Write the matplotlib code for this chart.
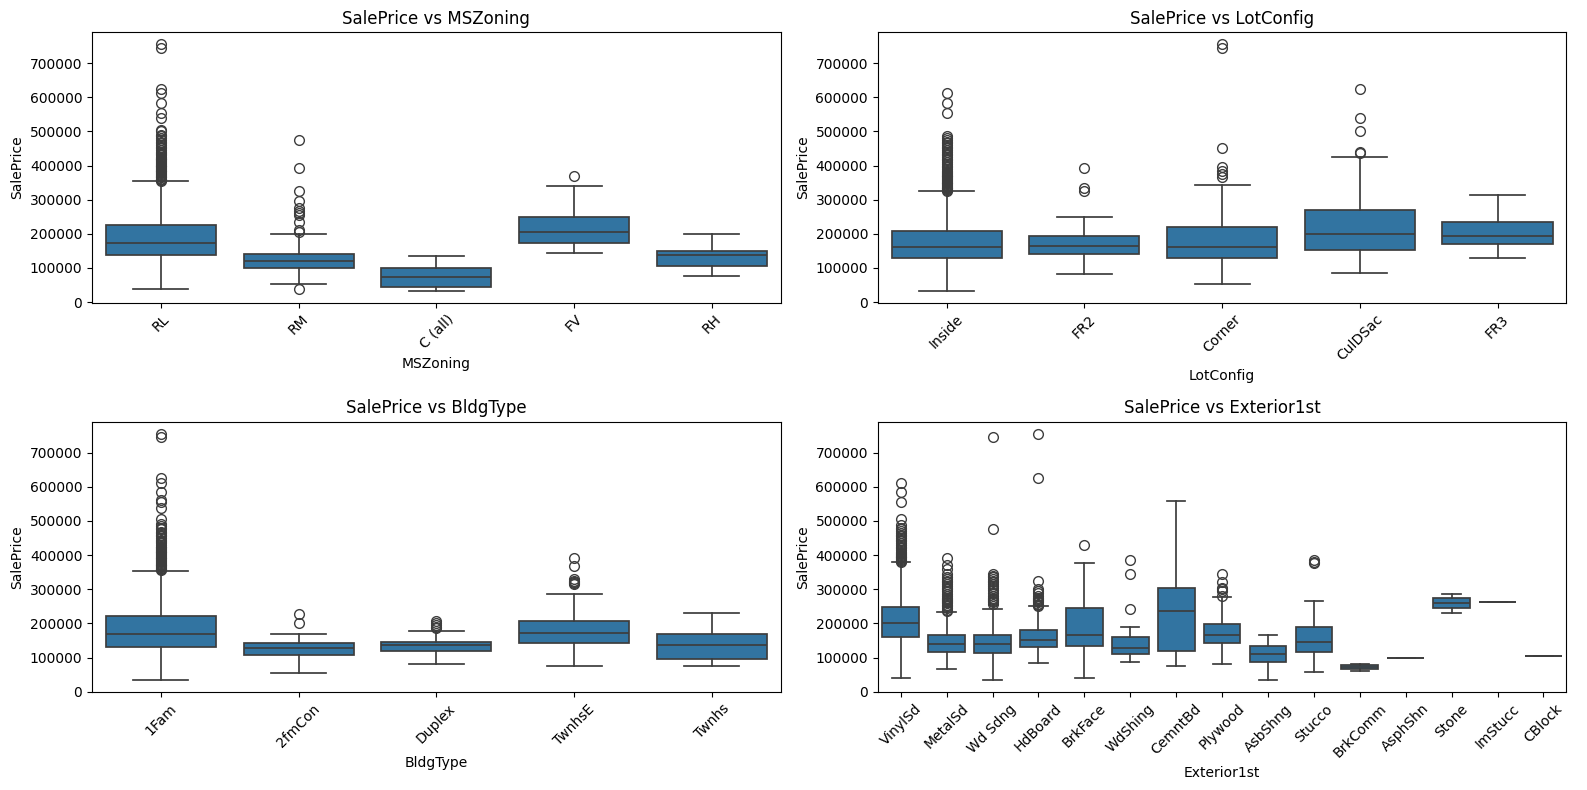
import numpy as np
import matplotlib
matplotlib.use("Agg")
import matplotlib.pyplot as plt

# box statistics, SalePrice in thousands
zoning_cats = ["RL", "RM", "C (all)", "FV", "RH"]
zoning_lo = [39, 54, 34, 143, 76]
zoning_q1 = [137, 100, 44, 173, 105]
zoning_med = [173, 121, 75, 206, 138]
zoning_q3 = [225, 140, 100, 248, 149]
zoning_hi = [354, 199, 135, 339, 199]
zoning_fliers = [
    [356, 358, 360, 362, 365, 367, 370, 372, 375, 378, 380, 383, 385, 388, 390,
     392, 395, 398, 400, 403, 405, 408, 410, 412, 415, 418, 420, 423, 425, 430,
     435, 438, 440, 445, 450, 455, 460, 465, 468, 475, 480, 485, 490, 500,
     505, 538, 555, 582, 611, 625, 745, 755],
    [38, 206, 210, 235, 255, 262, 268, 275, 295, 325, 392, 475],
    [],
    [370],
    [],
]

lot_cats = ["Inside", "FR2", "Corner", "CulDSac", "FR3"]
lot_lo = [34, 82, 53, 84, 129]
lot_q1 = [128, 142, 128, 154, 169]
lot_med = [161, 164, 161, 199, 195]
lot_q3 = [208, 193, 219, 269, 234]
lot_hi = [325, 248, 342, 424, 315]
lot_fliers = [
    [326, 328, 330, 333, 335, 338, 340, 343, 345, 348, 350, 353, 355, 358, 360,
     363, 365, 368, 370, 373, 375, 378, 380, 385, 390, 395, 400, 405, 410, 415,
     420, 425, 430, 435, 440, 445, 450, 455, 460, 465, 470, 475, 480, 485,
     555, 582, 611],
    [325, 335, 394],
    [367, 375, 385, 395, 452, 745, 755],
    [437, 440, 502, 538, 625],
    [],
]

bldg_cats = ["1Fam", "2fmCon", "Duplex", "TwnhsE", "Twnhs"]
bldg_lo = [35, 55, 82, 76, 76]
bldg_q1 = [130, 107, 120, 143, 96]
bldg_med = [169, 129, 136, 173, 137]
bldg_q3 = [222, 143, 146, 208, 169]
bldg_hi = [353, 169, 179, 287, 230]
bldg_fliers = [
    [355, 358, 360, 362, 365, 367, 370, 372, 375, 378, 380, 383, 385, 388, 390,
     392, 395, 398, 400, 403, 405, 408, 410, 412, 415, 418, 420, 423, 425, 430,
     435, 438, 440, 445, 450, 455, 460, 465, 468, 475, 480, 485, 490,
     505, 538, 555, 560, 585, 611, 625, 745, 755],
    [200, 228],
    [187, 190, 195, 200, 206],
    [315, 318, 320, 325, 330, 367, 392],
    [],
]

ext_cats = ["VinylSd", "MetalSd", "Wd Sdng", "HdBoard", "BrkFace", "WdShing",
            "CemntBd", "Plywood", "AsbShng", "Stucco", "BrkComm", "AsphShn",
            "Stone", "ImStucc", "CBlock"]
ext_lo = [39, 65, 35, 85, 41, 88, 76, 82, 35, 57, 60, 100, 230, 262, 105]
ext_q1 = [160, 117, 114, 131, 133, 110, 120, 142, 87, 117, 67, 100, 244, 262, 105]
ext_med = [202, 140, 140, 150, 166, 129, 237, 167, 109, 145, 72, 100, 260, 262, 105]
ext_q3 = [248, 166, 166, 182, 245, 160, 303, 198, 135, 190, 77, 100, 275, 262, 105]
ext_hi = [379, 233, 242, 250, 377, 190, 557, 277, 166, 266, 82, 100, 286, 262, 105]
ext_fliers = [
    [380, 383, 385, 388, 390, 393, 395, 398, 400, 403, 405, 410, 415, 420, 425,
     430, 435, 440, 445, 450, 455, 460, 465, 470, 475, 480, 488, 505, 555, 584, 611],
    [235, 240, 245, 250, 255, 260, 263, 265, 268, 270, 275, 280, 285, 295, 300,
     305, 310, 315, 320, 325, 330, 335, 345, 360, 370, 390],
    [258, 262, 265, 268, 272, 275, 280, 290, 298, 305, 310, 315, 320, 325, 330,
     335, 340, 345, 475, 745],
    [252, 255, 258, 262, 265, 268, 272, 275, 280, 288, 295, 300, 325, 625, 755],
    [430],
    [242, 345, 385],
    [],
    [280, 295, 300, 305, 320, 345],
    [],
    [376, 381, 385],
    [], [], [], [], [],
]

panels = [
    ("MSZoning", zoning_cats, zoning_lo, zoning_q1, zoning_med, zoning_q3, zoning_hi, zoning_fliers),
    ("LotConfig", lot_cats, lot_lo, lot_q1, lot_med, lot_q3, lot_hi, lot_fliers),
    ("BldgType", bldg_cats, bldg_lo, bldg_q1, bldg_med, bldg_q3, bldg_hi, bldg_fliers),
    ("Exterior1st", ext_cats, ext_lo, ext_q1, ext_med, ext_q3, ext_hi, ext_fliers),
]

box_color = "#3274a1"
line_color = "#3d3d3d"

fig, axes = plt.subplots(2, 2, figsize=(15.87, 7.9), dpi=100)
fig.subplots_adjust(left=0.058, right=0.987, top=0.9595, bottom=0.124,
                    wspace=0.141, hspace=0.44)

for ax, (name, cats, lo, q1, med, q3, hi, fl) in zip(axes.flat, panels):
    stats = []
    for i in range(len(cats)):
        stats.append({
            "whislo": lo[i] * 1000, "q1": q1[i] * 1000, "med": med[i] * 1000,
            "q3": q3[i] * 1000, "whishi": hi[i] * 1000,
            "fliers": np.array(fl[i]) * 1000,
        })
    pos = np.arange(len(cats))
    ax.bxp(stats, positions=pos, widths=0.8, capwidths=0.4, patch_artist=True,
           boxprops=dict(facecolor=box_color, edgecolor=line_color, linewidth=1.25),
           whiskerprops=dict(color=line_color, linewidth=1.25),
           capprops=dict(color=line_color, linewidth=1.25),
           medianprops=dict(color=line_color, linewidth=1.25),
           flierprops=dict(marker="o", markerfacecolor="none",
                           markeredgecolor=line_color, markersize=7,
                           markeredgewidth=1.0))
    ax.set_xlim(-0.5, len(cats) - 0.5)
    ax.set_ylim(-1100, 791000)
    ax.set_xticks(pos)
    ax.set_xticklabels(cats, rotation=45)
    ax.set_title(f"SalePrice vs {name}")
    ax.set_xlabel(name)
    ax.set_ylabel("SalePrice")

fig.savefig("out.png", dpi=100)
